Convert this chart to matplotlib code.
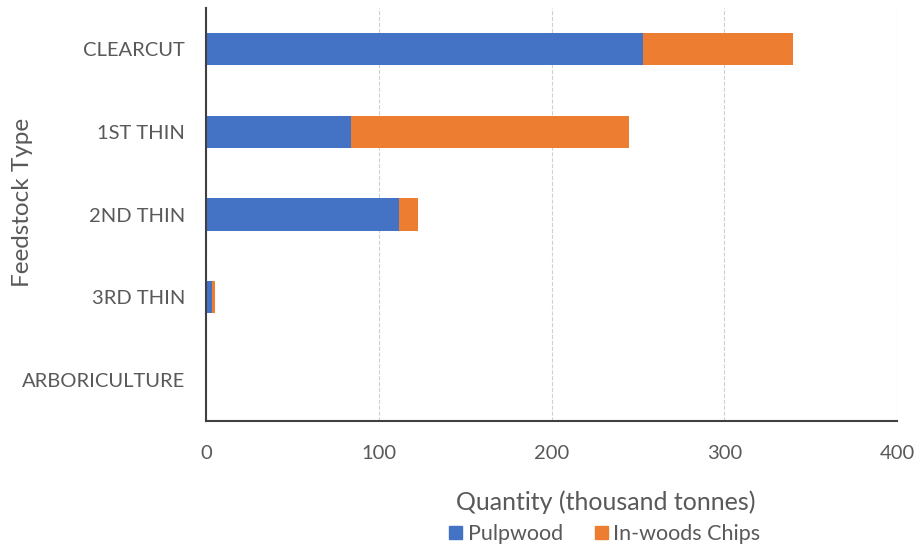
import matplotlib
matplotlib.use("Agg")
import matplotlib.pyplot as plt
from matplotlib.patches import Patch

categories = ["CLEARCUT", "1ST THIN", "2ND THIN", "3RD THIN", "ARBORICULTURE"]
pulpwood = [253, 84, 112, 3.5, 0]
chips = [87, 161, 11, 1.5, 0]

plt.rcParams['font.family'] = ['Lato', 'DejaVu Sans']

fig = plt.figure(figsize=(9.19, 5.5), dpi=100)
ax = fig.add_axes([206 / 919, 1 - 421 / 550, (897 - 206) / 919, (421 - 8) / 550])

y = list(range(len(categories)))
ax.barh(y, pulpwood, height=0.39, color='#4472C4', label='Pulpwood')
ax.barh(y, chips, left=pulpwood, height=0.39, color='#ED7D31', label='In-woods Chips')

ax.set_xlim(0, 400)
ax.set_ylim(len(categories) - 0.5, -0.5)
ax.set_yticks(y)
ax.set_yticklabels(categories)
ax.set_xticks([0, 100, 200, 300, 400])
ax.tick_params(axis='both', length=0, labelsize=14.5, colors='#595959')
ax.tick_params(axis='x', pad=17)
ax.tick_params(axis='y', pad=15)

ax.grid(axis='x', color='#D0D0D0', linestyle='--', linewidth=0.8)
ax.set_axisbelow(True)
for s in ['top', 'right']:
    ax.spines[s].set_visible(False)
ax.spines['left'].set_color('#404040')
ax.spines['bottom'].set_color('#404040')
ax.spines['left'].set_linewidth(1.5)
ax.spines['bottom'].set_linewidth(1.5)

fig.text(606 / 919, 1 - 502 / 550, 'Quantity (thousand tonnes)', ha='center', va='center',
         fontsize=18, color='#595959')
fig.text(23 / 919, 1 - 202 / 550, 'Feedstock Type', ha='center', va='center',
         rotation=90, fontsize=17.5, color='#595959')

handles = [Patch(color='#4472C4', label='Pulpwood'), Patch(color='#ED7D31', label='In-woods Chips')]
fig.legend(handles=handles, loc='center', bbox_to_anchor=(605 / 919, 1 - 534 / 550), ncol=2,
           frameon=False, fontsize=15.5, labelcolor='#595959', handlelength=0.6, handleheight=0.6,
           handletextpad=0.25, columnspacing=1.5)

fig.savefig('out.png', dpi=100)
